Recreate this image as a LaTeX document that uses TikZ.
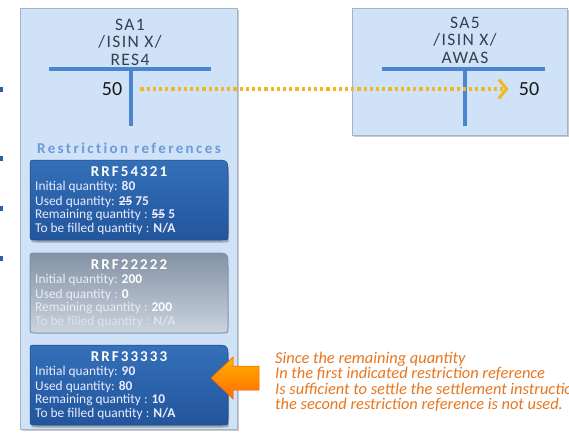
\documentclass[tikz,border=0pt]{standalone}
\usepackage{fontspec}
\setmainfont{Carlito}
\usetikzlibrary{arrows.meta,shadows}

\definecolor{panelblue}{HTML}{D0E2F7}
\definecolor{paneledge}{HTML}{A3B4C9}
\definecolor{tbar}{HTML}{4A86D0}
\definecolor{acctext}{HTML}{34404F}
\definecolor{reftitle}{HTML}{6B9BD8}
\definecolor{boxtop}{HTML}{3470B8}
\definecolor{boxbot}{HTML}{22559C}
\definecolor{greytop}{HTML}{8391A3}
\definecolor{greybot}{HTML}{CBD4DF}
\definecolor{greyedge}{HTML}{7E94AE}
\definecolor{dotgold}{HTML}{F2B81E}
\definecolor{noteorange}{HTML}{E8761E}
\definecolor{markblue}{HTML}{2F5FA8}

% struck-through figure
\newcommand\strk[1]{\setbox0\hbox{#1}\rlap{\rule[0.27em]{\wd0}{0.8pt}}\box0\relax}

\tikzset{
  panel/.style={fill=panelblue, draw=paneledge, line width=0.8pt,
    drop shadow={shadow xshift=2pt, shadow yshift=-2pt, opacity=0.35, fill=black!60}},
  tline/.style={draw=tbar, line width=4pt},
  acct/.style={text=acctext, align=center, inner sep=0pt,
    font=\fontsize{17.5}{17.5}\selectfont\addfontfeature{LetterSpace=8}},
  qty/.style={text=black!90, inner sep=0pt, font=\fontsize{20}{20}\selectfont},
  refbox/.style={top color=boxtop, bottom color=boxbot, draw=boxbot!80!black, line width=0.5pt,
    drop shadow={shadow xshift=1pt, shadow yshift=-2.5pt, opacity=0.4, fill=black!70}},
  greybox/.style={top color=greytop, bottom color=greybot, draw=greyedge, line width=1pt},
  rtitle/.style={anchor=base, inner sep=0pt, text=white,
    font=\fontsize{15}{15}\selectfont\bfseries\addfontfeature{LetterSpace=14}},
  rline/.style={anchor=base west, inner sep=0pt, text=white!92!blue,
    font=\fontsize{13.4}{14}\selectfont},
  dotarrow/.style={draw=dotgold, line width=3.2pt, dash pattern=on 3.2pt off 3pt,
    -{Straight Barb[length=8pt, width=19pt, line width=3pt]}},
  note/.style={anchor=north west, align=left, inner sep=0pt, text=noteorange,
    font=\fontsize{16.4}{15.3}\selectfont\itshape},
}

\begin{document}
\begin{tikzpicture}[x=1pt, y=-1pt]
\clip (0,0) rectangle (569,433);
\fill[white] (0,0) rectangle (569,433);

% small marks at the left edge
\foreach \yy in {90,158,208,258}
  \fill[markblue] (0,\yy-2.5) rectangle (3,\yy+2.5);

% account panels
\path[panel] (20,8) rectangle (237,429);
\path[panel] (352,8) rectangle (567,135);

% T accounts
\draw[tline] (49,69) -- (211,69);
\draw[tline] (131,69) -- (131,126);
\draw[tline] (382,69) -- (545,69);
\draw[tline] (465,69) -- (465,126);

\node[acct] (accA) at (130,42) {SA1\\/ISIN X/\\RES4};
\node[acct] (accB) at (465,40) {SA5\\/ISIN X/\\AWAS};

\node[qty] (qA) at (112,89) {50};
\node[qty] (qB) at (529,89) {50};

\draw[dotarrow, shorten <=18pt, shorten >=10pt] (qA.east) -- (qB.west);

% restriction references
\node[inner sep=0pt, text=reftitle,
  font=\fontsize{15}{15}\selectfont\bfseries\addfontfeature{LetterSpace=16,Ligatures=NoCommon}]
  (reft) at (129,148) {Restriction references};

% first reference
\path[refbox] (30,166) .. controls (30,160) .. (36,160) -- (214,160)
  .. controls (228,160) .. (228,174) -- (228,234) .. controls (228,240) .. (222,240)
  -- (36,240) .. controls (30,240) .. (30,234) -- cycle;
\node[rtitle] (r1t) at (129,176) {RRF54321};
\node[rline] (r1a) at (35,190) {Initial quantity: \textbf{80}};
\node[rline] (r1b) at (35,205) {Used quantity: \textbf{\strk{25} 75}};
\node[rline] (r1c) at (35,218.5) {Remaining quantity : \textbf{\strk{55} 5}};
\node[rline] (r1d) at (35,232.5) {To be filled quantity : \textbf{N/A}};

% second reference (not used)
\path[greybox] (30,259) .. controls (30,253) .. (36,253) -- (214,253)
  .. controls (228,253) .. (228,267) -- (228,327) .. controls (228,333) .. (222,333)
  -- (36,333) .. controls (30,333) .. (30,327) -- cycle;
\node[rtitle] (r2t) at (129,269) {RRF22222};
\node[rline, text=white!85!greytop] (r2a) at (35,283) {Initial quantity: \textcolor{white}{\textbf{200}}};
\node[rline, text=white!85!greytop] (r2b) at (35,298) {Used quantity : \textcolor{white}{\textbf{0}}};
\node[rline, text=white!55!greybot] (r2c) at (35,311.5) {Remaining quantity : \textcolor{white}{\textbf{200}}};
\node[rline, text=white!35!greybot] (r2d) at (35,325.5) {To be filled quantity : \textbf{N/A}};

% third reference
\path[refbox] (30,351) .. controls (30,345) .. (36,345) -- (214,345)
  .. controls (228,345) .. (228,359) -- (228,419) .. controls (228,425) .. (222,425)
  -- (36,425) .. controls (30,425) .. (30,419) -- cycle;
\node[rtitle] (r3t) at (129,361) {RRF33333};
\node[rline] (r3a) at (35,375) {Initial quantity: \textbf{90}};
\node[rline] (r3b) at (35,390) {Used quantity: \textbf{80}};
\node[rline] (r3c) at (35,403.5) {Remaining quantity : \textbf{10}};
\node[rline] (r3d) at (35,417.5) {To be filled quantity : \textbf{N/A}};

% pointer arrow
\path[top color=orange!60!yellow, bottom color=orange!85!red, draw=orange!70!red, line width=0.5pt]
  (211,378) -- (233,357) -- (233,366) -- (259,366) -- (259,390) -- (233,390) -- (233,399) -- cycle;

% explanation
\node[note] (expl) at (275,352) {Since the remaining quantity\\
In the first indicated restriction reference\\
Is sufficient to settle the settlement instruction,\\
the second restriction reference is not used.};
\end{tikzpicture}
\end{document}
